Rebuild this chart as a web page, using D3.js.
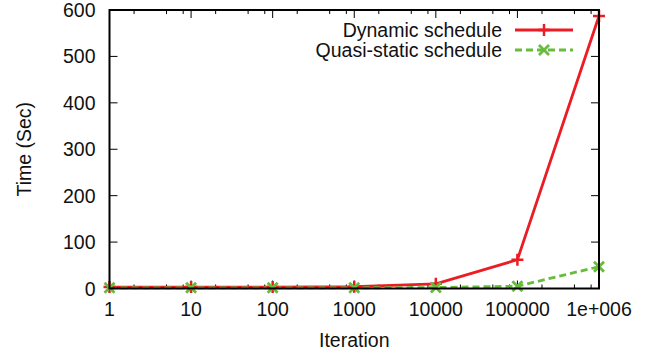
<!DOCTYPE html>
<html>
<head>
<meta charset="utf-8">
<script src="https://cdn.jsdelivr.net/npm/d3@7"></script>
<style>
  body { margin: 0; background: #fff; }
  svg { display: block; font-family: "Liberation Sans", Arial, sans-serif; }
</style>
</head>
<body>
<div id="chart"></div>
<script>
// iterations on a log axis
var iterations = [1, 10, 100, 1000, 10000, 100000, 1000000];
var xTickLabels = ["1", "10", "100", "1000", "10000", "100000", "1e+006"];
var dynamicTimes = [3, 3, 3, 4, 10, 62, 587];
var quasiTimes = [1.5, 1.5, 1.5, 1.5, 2, 5, 47];
var yTicks = [0, 100, 200, 300, 400, 500, 600];

var width = 665, height = 354;
var margin = {left: 109.5, right: 66, top: 10, bottom: 65.5};
var fs = 19.5;

var svg = d3.select("#chart").append("svg")
    .attr("width", width)
    .attr("height", height);

var x = d3.scaleLog().base(10).domain([1, 1000000]).range([margin.left, width - margin.right]);
var y = d3.scaleLinear().domain([0, 600]).range([height - margin.bottom, margin.top]);

var x0 = x.range()[0], x1 = x.range()[1];
var y0 = y.range()[0], y1 = y.range()[1];

// minor ticks (2, 5, 8 in each decade like the original)
var minor = [];
iterations.slice(0, -1).forEach(function(d){
  [2, 5, 8].forEach(function(m){ minor.push(d * m); });
});

var ticks = svg.append("g").attr("stroke", "#000").attr("stroke-width", 1);
minor.forEach(function(v){
  ticks.append("line").attr("x1", x(v)).attr("x2", x(v)).attr("y1", y0).attr("y2", y0 - 4);
  ticks.append("line").attr("x1", x(v)).attr("x2", x(v)).attr("y1", y1).attr("y2", y1 + 4);
});
iterations.forEach(function(v){
  ticks.append("line").attr("x1", x(v)).attr("x2", x(v)).attr("y1", y0).attr("y2", y0 - 8);
  ticks.append("line").attr("x1", x(v)).attr("x2", x(v)).attr("y1", y1).attr("y2", y1 + 8);
});
yTicks.forEach(function(v){
  ticks.append("line").attr("x1", x0).attr("x2", x0 + 8).attr("y1", y(v)).attr("y2", y(v));
  ticks.append("line").attr("x1", x1).attr("x2", x1 - 8).attr("y1", y(v)).attr("y2", y(v));
});

// tick labels
svg.append("g").selectAll("text").data(yTicks).enter().append("text")
    .attr("x", x0 - 14)
    .attr("y", function(d){ return y(d); })
    .attr("dy", "0.36em")
    .attr("text-anchor", "end")
    .attr("font-size", fs)
    .attr("fill", "#111")
    .text(function(d){ return d; });

svg.append("g").selectAll("text").data(iterations).enter().append("text")
    .attr("x", function(d){ return x(d); })
    .attr("y", y0 + 27)
    .attr("text-anchor", "middle")
    .attr("font-size", fs)
    .attr("fill", "#111")
    .text(function(d, i){ return xTickLabels[i]; });

svg.append("text")
    .attr("transform", "translate(31," + ((y0 + y1) / 2) + ") rotate(-90)")
    .attr("text-anchor", "middle")
    .attr("font-size", fs)
    .attr("fill", "#111")
    .text("Time (Sec)");

svg.append("text")
    .attr("x", (x0 + x1) / 2)
    .attr("y", 347)
    .attr("text-anchor", "middle")
    .attr("font-size", fs)
    .attr("fill", "#111")
    .text("Iteration");

var red = "#ec1c24", green = "#67bb3d";

var line = d3.line().x(function(d){ return x(d[0]); }).y(function(d){ return y(d[1]); });
var dynPts = d3.zip(iterations, dynamicTimes);
var quasiPts = d3.zip(iterations, quasiTimes);

function plus(g, cx, cy, col){
  g.append("path").attr("d", "M" + (cx - 6) + "," + cy + "H" + (cx + 6) + "M" + cx + "," + (cy - 6) + "V" + (cy + 6))
    .attr("stroke", col).attr("stroke-width", 2.5).attr("fill", "none");
}
function cross(g, cx, cy, col){
  g.append("path").attr("d", "M" + (cx - 5) + "," + (cy - 5) + "L" + (cx + 5) + "," + (cy + 5) + "M" + (cx - 5) + "," + (cy + 5) + "L" + (cx + 5) + "," + (cy - 5))
    .attr("stroke", col).attr("stroke-width", 2.8).attr("fill", "none");
}

var plot = svg.append("g");
plot.append("path").datum(dynPts).attr("d", line)
    .attr("fill", "none").attr("stroke", red).attr("stroke-width", 2.8);
plot.append("path").datum(quasiPts).attr("d", line)
    .attr("fill", "none").attr("stroke", green).attr("stroke-width", 2.8)
    .attr("stroke-dasharray", "7,4");
dynPts.forEach(function(p){ plus(plot, x(p[0]), y(p[1]), red); });
quasiPts.forEach(function(p){ cross(plot, x(p[0]), y(p[1]), green); });

// frame
svg.append("rect")
    .attr("x", x0).attr("y", y1)
    .attr("width", x1 - x0).attr("height", y0 - y1)
    .attr("fill", "none").attr("stroke", "#000").attr("stroke-width", 2);

// legend
var legend = [
  {name: "Dynamic schedule", col: red, dash: null, mark: plus},
  {name: "Quasi-static schedule", col: green, dash: "7,4", mark: cross}
];
legend.forEach(function(l, i){
  var ly = 30 + i * 20;
  svg.append("text").attr("x", 502).attr("y", ly).attr("dy", "0.36em")
    .attr("text-anchor", "end").attr("font-size", fs).attr("fill", "#111").text(l.name);
  svg.append("line").attr("x1", 515).attr("x2", 573).attr("y1", ly).attr("y2", ly)
    .attr("stroke", l.col).attr("stroke-width", 2.8).attr("stroke-dasharray", l.dash);
  l.mark(svg, 544, ly, l.col);
});
</script>
</body>
</html>
